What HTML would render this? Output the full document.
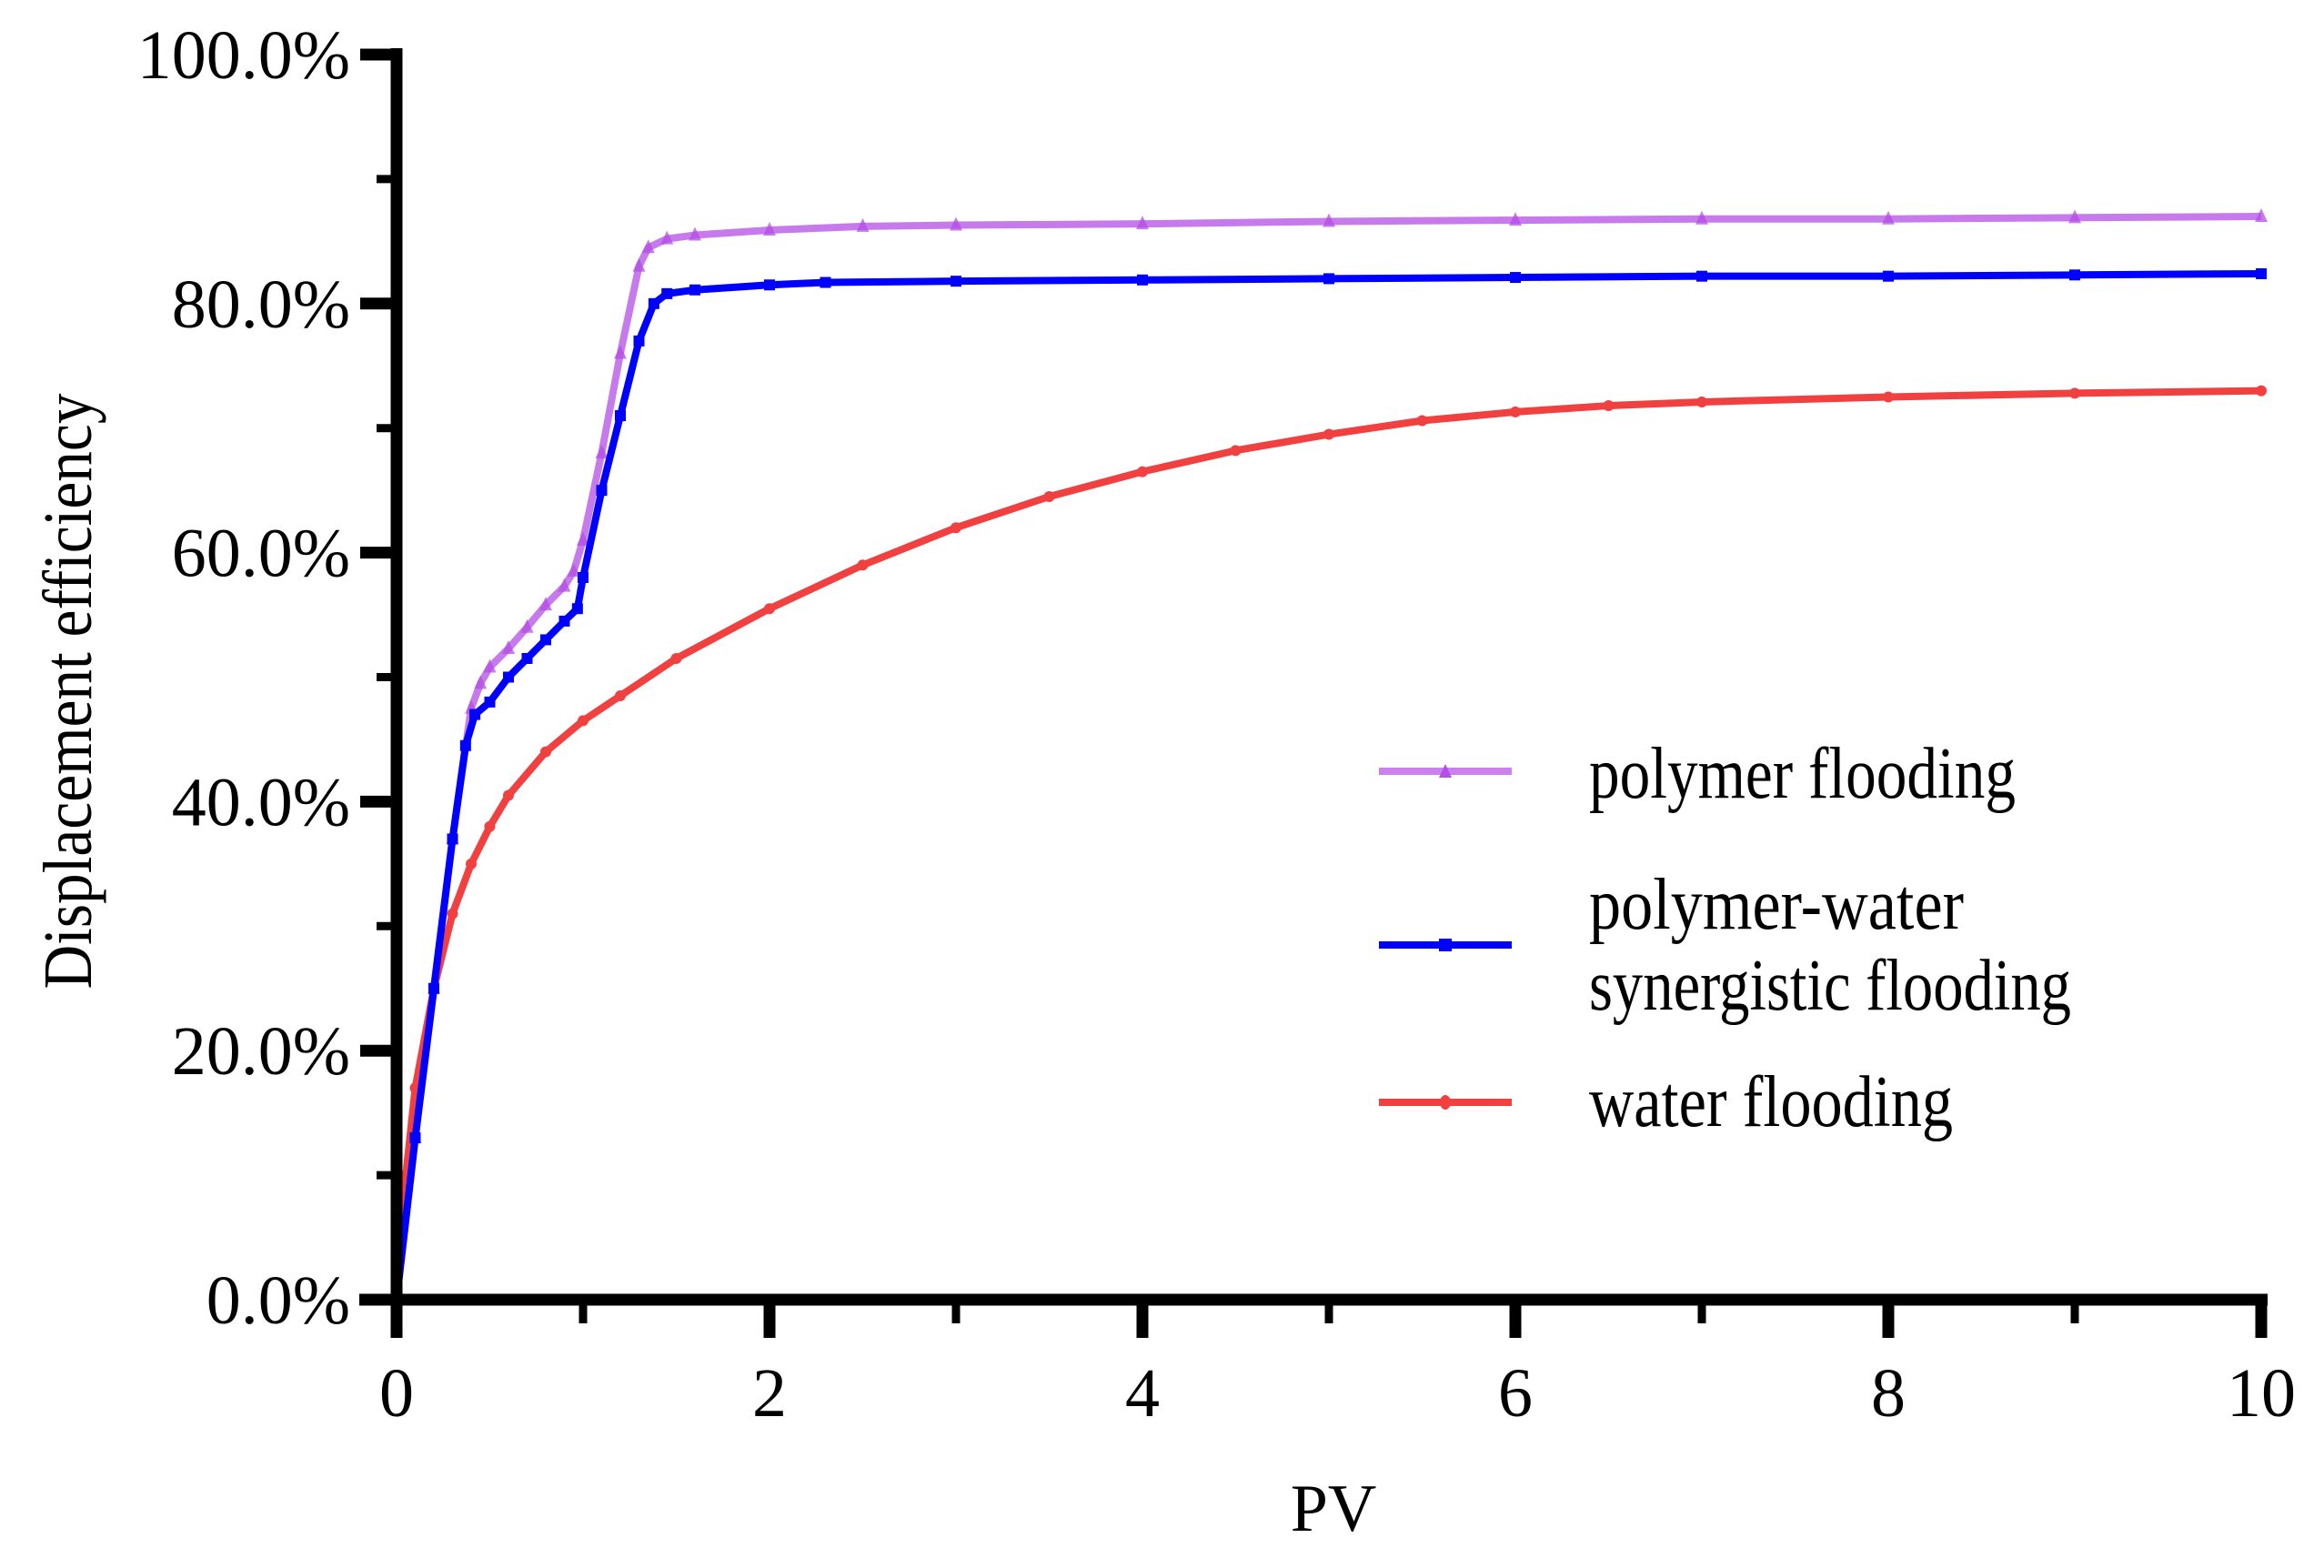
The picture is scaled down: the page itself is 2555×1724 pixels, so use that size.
<!DOCTYPE html>
<html><head><meta charset="utf-8"><style>
html,body{margin:0;padding:0;background:#fff;}
svg{display:block;font-family:"Liberation Serif","Times New Roman",serif;}
</style></head><body>
<svg id="chart" width="2555" height="1724" viewBox="0 0 2555 1724" xmlns="http://www.w3.org/2000/svg">
<g id="series"></g>
<g id="axes"></g>
<text x="0" y="0" font-size="76" text-anchor="middle" transform="translate(100,760) rotate(-90)" textLength="655" lengthAdjust="spacingAndGlyphs">Displacement efficiency</text>
<text x="1466" y="1683" font-size="74" text-anchor="middle">PV</text>
<g>
  <g>
    <line x1="1516" y1="848" x2="1662" y2="848" stroke="#c46ae8" stroke-width="8" opacity="0.85"/>
    <polygon points="1589,840 1582,855 1596,855" fill="#b44ee6"/>
    <text x="1747" y="877" font-size="80" textLength="469" lengthAdjust="spacingAndGlyphs">polymer flooding</text>
  </g>
  <g>
    <line x1="1516" y1="1039" x2="1662" y2="1039" stroke="#0000ff" stroke-width="8"/>
    <rect x="1582" y="1032" width="14" height="14" fill="#0000ff"/>
    <text x="1747" y="1021" font-size="80" textLength="412" lengthAdjust="spacingAndGlyphs">polymer-water</text>
    <text x="1747" y="1110" font-size="80" textLength="530" lengthAdjust="spacingAndGlyphs">synergistic flooding</text>
  </g>
  <g>
    <line x1="1516" y1="1212" x2="1662" y2="1212" stroke="#f04040" stroke-width="8"/>
    <ellipse cx="1589" cy="1212" rx="6" ry="8" fill="#f04040"/>
    <text x="1747" y="1238" font-size="80" textLength="400" lengthAdjust="spacingAndGlyphs">water flooding</text>
  </g>
</g>
</svg>
<script>
const yTicks = [0,20,40,60,80,100];
const yTickLabels = ["0.0%","20.0%","40.0%","60.0%","80.0%","100.0%"];
const xTicks = [0,2,4,6,8,10];
const xTickLabels = ["0","2","4","6","8","10"];
const polyX = [0,0.1,0.2,0.3,0.4,0.45,0.5,0.6,0.7,0.8,0.9,0.95,1.0,1.1,1.2,1.3,1.35,1.45,1.6,2,2.5,3,4,5,6,7,8,9,10];
const polyY = [0,13,25,37,47.5,49.5,50.8,52.3,54,55.8,57.3,58.5,61,68,76,83,84.5,85.2,85.5,85.9,86.2,86.3,86.4,86.6,86.7,86.8,86.8,86.9,87.0];
const synX = [0,0.1,0.2,0.3,0.37,0.42,0.5,0.6,0.7,0.8,0.9,0.97,1.0,1.1,1.2,1.3,1.38,1.45,1.6,2,2.3,3,4,5,6,7,8,9,10];
const synY = [0,13,25,37,44.5,47,48,50,51.5,53,54.5,55.5,58,65,71,77,80,80.8,81.1,81.5,81.7,81.8,81.9,82.0,82.1,82.2,82.2,82.3,82.4];
const watX = [0,0.05,0.1,0.2,0.3,0.4,0.5,0.6,0.8,1.0,1.2,1.5,2,2.5,3,3.5,4,4.5,5,5.5,6,6.5,7,8,9,10];
const watY = [0,10,17,25,31,35,38,40.5,44,46.5,48.5,51.5,55.5,59,62,64.5,66.5,68.2,69.5,70.6,71.3,71.8,72.1,72.5,72.8,73.0];

const X0=436, X1=2486, Y0=1429, Y1=60;
function sx(v){return X0+(v/10)*(X1-X0);}
function sy(v){return Y0-(v/100)*(Y0-Y1);}
const NS="http://www.w3.org/2000/svg";
function mk(tag,attrs,parent){const e=document.createElementNS(NS,tag);for(const k in attrs)e.setAttribute(k,attrs[k]);parent.appendChild(e);return e;}

const axes=document.getElementById('axes');
const yl=mk('line',{x1:X0,y1:Y1-7,x2:X0,y2:Y0+7,stroke:'#000','stroke-width':13},axes);


const xl=mk('line',{x1:395,y1:Y0,x2:X1+7,y2:Y0,stroke:'#000','stroke-width':13},axes);


for(let v=0;v<=100;v+=10){
  const major=v%20===0;
  const t=mk('line',{x1:X0-(major?40:22),y1:sy(v),x2:X0,y2:sy(v),stroke:'#000','stroke-width':major?13:9},axes);
  
  
}
yTicks.forEach((v,i)=>{
  const t=mk('text',{x:385,y:sy(v)+26,'font-size':76,'text-anchor':'end'},axes);
  t.textContent=yTickLabels[i];
  
  
});
for(let v=0;v<=10;v+=1){
  const major=v%2===0;
  const t=mk('line',{x1:sx(v),y1:Y0,x2:sx(v),y2:major?1471:1455,stroke:'#000','stroke-width':major?13:9},axes);
  
  
}
xTicks.forEach((v,i)=>{
  const t=mk('text',{x:sx(v),y:1557,'font-size':76,'text-anchor':'middle'},axes);
  t.textContent=xTickLabels[i];
  
  
});

const series=document.getElementById('series');
function drawSeries(xs,ys,color,opacity,marker,name){
  const g=mk('g',{},series);
  
  
  const pts=xs.map((x,i)=>sx(x)+','+sy(ys[i])).join(' ');
  const pl=mk('polyline',{points:pts,fill:'none',stroke:color,'stroke-width':8,'stroke-linejoin':'round',opacity:opacity},g);
  
  
  xs.forEach((x,i)=>{
    const cx=sx(x), cy=sy(ys[i]);
    let m;
    if(marker==='tri') m=mk('polygon',{points:`${cx},${cy-9} ${cx-7},${cy+6} ${cx+7},${cy+6}`,fill:color,opacity:opacity},g);
    else if(marker==='sq') m=mk('rect',{x:cx-6,y:cy-6,width:12,height:12,fill:color},g);
    else m=mk('circle',{cx:cx,cy:cy,r:6,fill:color},g);
    
    
  });
}
drawSeries(watX,watY,'#f04040',1,'circ','water-flooding-series');
drawSeries(polyX,polyY,'#b44ee6',0.75,'tri','polymer-flooding-series');
drawSeries(synX,synY,'#0000ff',1,'sq','synergistic-flooding-series');
</script>
</body></html>
